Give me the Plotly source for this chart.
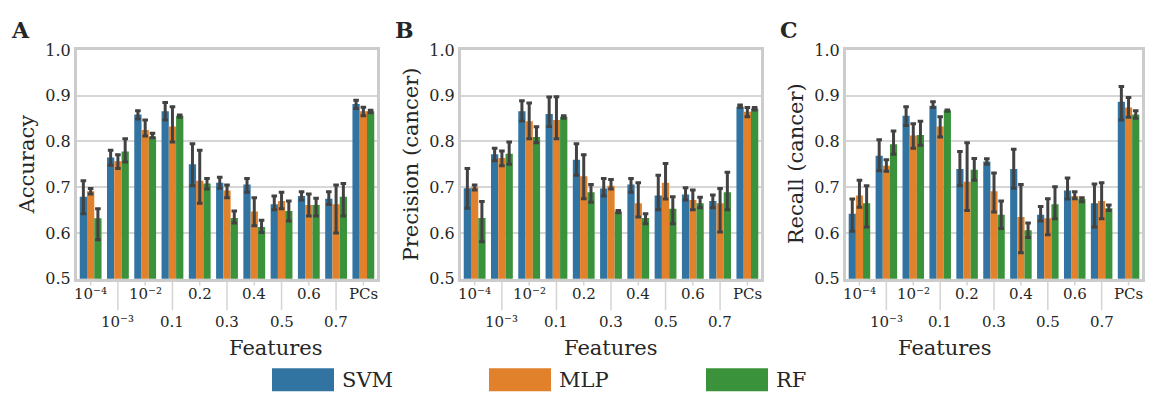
import plotly.graph_objects as go

# ---- data -------------------------------------------------------------
features = ["10⁻⁴", "10⁻³", "10⁻²", "0.1", "0.2",
            "0.3", "0.4", "0.5", "0.6", "0.7", "PCs"]
models = ["SVM", "MLP", "RF"]

# Accuracy: mean, upper and lower CI bound
acc_svm = [0.679, 0.765, 0.859, 0.866, 0.750, 0.710, 0.706, 0.663, 0.681, 0.675, 0.882]
acc_svm_hi = [0.714, 0.781, 0.867, 0.885, 0.795, 0.722, 0.719, 0.681, 0.690, 0.690, 0.890]
acc_svm_lo = [0.642, 0.748, 0.849, 0.847, 0.703, 0.698, 0.689, 0.651, 0.672, 0.662, 0.872]
acc_mlp = [0.691, 0.757, 0.825, 0.833, 0.714, 0.693, 0.647, 0.670, 0.661, 0.663, 0.866]
acc_mlp_hi = [0.697, 0.771, 0.847, 0.876, 0.781, 0.705, 0.677, 0.689, 0.685, 0.705, 0.875]
acc_mlp_lo = [0.685, 0.741, 0.812, 0.799, 0.665, 0.677, 0.616, 0.653, 0.637, 0.600, 0.856]
acc_rf = [0.632, 0.778, 0.811, 0.856, 0.708, 0.633, 0.613, 0.648, 0.661, 0.679, 0.866]
acc_rf_hi = [0.653, 0.806, 0.818, 0.858, 0.719, 0.648, 0.628, 0.670, 0.676, 0.708, 0.868]
acc_rf_lo = [0.585, 0.755, 0.808, 0.853, 0.696, 0.622, 0.601, 0.626, 0.637, 0.637, 0.863]

# Precision (cancer)
prec_svm = [0.698, 0.772, 0.866, 0.860, 0.760, 0.697, 0.706, 0.682, 0.684, 0.670, 0.876]
prec_svm_hi = [0.741, 0.785, 0.889, 0.897, 0.795, 0.719, 0.719, 0.726, 0.699, 0.683, 0.880]
prec_svm_lo = [0.654, 0.758, 0.845, 0.833, 0.726, 0.681, 0.689, 0.651, 0.672, 0.655, 0.874]
prec_mlp = [0.700, 0.764, 0.844, 0.847, 0.724, 0.703, 0.665, 0.710, 0.672, 0.665, 0.865]
prec_mlp_hi = [0.705, 0.779, 0.884, 0.898, 0.771, 0.717, 0.710, 0.752, 0.694, 0.697, 0.874]
prec_mlp_lo = [0.694, 0.747, 0.806, 0.806, 0.675, 0.696, 0.635, 0.674, 0.651, 0.602, 0.854]
prec_rf = [0.633, 0.773, 0.810, 0.854, 0.689, 0.647, 0.633, 0.653, 0.665, 0.689, 0.872]
prec_rf_hi = [0.669, 0.799, 0.832, 0.856, 0.706, 0.649, 0.642, 0.679, 0.678, 0.733, 0.874]
prec_rf_lo = [0.581, 0.750, 0.797, 0.851, 0.667, 0.644, 0.620, 0.620, 0.655, 0.651, 0.869]

# Recall (cancer)
rec_svm = [0.642, 0.769, 0.856, 0.878, 0.740, 0.756, 0.740, 0.640, 0.693, 0.665, 0.887]
rec_svm_hi = [0.674, 0.804, 0.876, 0.887, 0.778, 0.762, 0.783, 0.658, 0.720, 0.707, 0.920]
rec_svm_lo = [0.604, 0.736, 0.835, 0.874, 0.703, 0.750, 0.698, 0.626, 0.674, 0.613, 0.847]
rec_mlp = [0.682, 0.747, 0.813, 0.833, 0.712, 0.691, 0.635, 0.632, 0.681, 0.670, 0.874]
rec_mlp_hi = [0.715, 0.760, 0.839, 0.854, 0.797, 0.731, 0.706, 0.675, 0.690, 0.710, 0.896]
rec_mlp_lo = [0.656, 0.735, 0.785, 0.810, 0.649, 0.646, 0.557, 0.596, 0.675, 0.631, 0.853]
rec_rf = [0.665, 0.794, 0.814, 0.868, 0.738, 0.640, 0.606, 0.663, 0.674, 0.654, 0.859]
rec_rf_hi = [0.703, 0.823, 0.844, 0.869, 0.763, 0.670, 0.622, 0.701, 0.677, 0.661, 0.867]
rec_rf_lo = [0.613, 0.772, 0.792, 0.866, 0.715, 0.610, 0.590, 0.631, 0.668, 0.649, 0.851]

y_ticks = [0.5, 0.6, 0.7, 0.8, 0.9, 1.0]

# ---- styling ----------------------------------------------------------
W, H = 1155, 405
SERIF = "'DejaVu Serif', 'Liberation Serif', serif"
TEXT = "#262626"
FRAME = "#cccccc"
GRID = "#d6d6d6"
ERR = "#424242"
colors = {"SVM": "#3274a1", "MLP": "#e1812c", "RF": "#3a923a"}

panels = [
    {"letter": "A", "ylabel": "Accuracy",
     "series": {"SVM": (acc_svm, acc_svm_hi, acc_svm_lo),
                "MLP": (acc_mlp, acc_mlp_hi, acc_mlp_lo),
                "RF": (acc_rf, acc_rf_hi, acc_rf_lo)},
     "px": (77, 377)},
    {"letter": "B", "ylabel": "Precision (cancer)",
     "series": {"SVM": (prec_svm, prec_svm_hi, prec_svm_lo),
                "MLP": (prec_mlp, prec_mlp_hi, prec_mlp_lo),
                "RF": (prec_rf, prec_rf_hi, prec_rf_lo)},
     "px": (461, 761)},
    {"letter": "C", "ylabel": "Recall (cancer)",
     "series": {"SVM": (rec_svm, rec_svm_hi, rec_svm_lo),
                "MLP": (rec_mlp, rec_mlp_hi, rec_mlp_lo),
                "RF": (rec_rf, rec_rf_hi, rec_rf_lo)},
     "px": (846, 1142)},
]

PLOT_TOP, PLOT_BOT = 43, 283


def fy(py):
    """pixel row -> paper y"""
    return 1 - py / H


def fx(px):
    return px / W


fig = go.Figure()
annotations = []
shapes = []
xpos = list(range(len(features)))

for k, p in enumerate(panels):
    sfx = "" if k == 0 else str(k + 1)
    xa, ya = "x" + sfx, "y" + sfx
    for m in models:
        mean, hi, lo = p["series"][m]
        fig.add_trace(go.Bar(
            x=xpos, y=mean, name=m, xaxis=xa, yaxis=ya,
            marker=dict(color=colors[m], line=dict(width=0)),
            error_y=dict(type="data", symmetric=False,
                         array=[h - v for h, v in zip(hi, mean)],
                         arrayminus=[v - l for v, l in zip(mean, lo)],
                         color=ERR, thickness=3, width=2.8),
            showlegend=False, offsetgroup=m,
        ))
    x0, x1 = p["px"]
    fig.update_layout({
        "xaxis" + sfx: dict(domain=[fx(x0), fx(x1)], anchor=ya,
                            range=[-0.5, len(features) - 0.5],
                            showticklabels=False, showgrid=False, zeroline=False,
                            showline=True, mirror=True, linecolor=FRAME, linewidth=3,
                            ticks=""),
        "yaxis" + sfx: dict(domain=[fy(PLOT_BOT), fy(PLOT_TOP)], anchor=xa,
                            range=[0.5, 1.0], tickvals=y_ticks,
                            ticktext=[f"{t:.1f}" for t in y_ticks],
                            showgrid=True, gridcolor=GRID, gridwidth=2,
                            zeroline=False, showline=True, mirror=True,
                            linecolor=FRAME, linewidth=3, ticks="",
                            tickfont=dict(family=SERIF, size=16, color=TEXT)),
    })

    # two-row category labels with short / long tick lines
    for i, lab in enumerate(features):
        row2 = i % 2 == 1
        shapes.append(dict(type="line", xref=xa, yref="paper",
                           x0=i, x1=i, y0=fy(PLOT_BOT + 1),
                           y1=fy(316 if row2 else 290),
                           line=dict(color="#d4d4d4", width=1.5), layer="below"))
        annotations.append(dict(xref=xa, yref="paper", x=i,
                                y=fy(328 if row2 else 299),
                                text=lab, showarrow=False, xanchor="center",
                                yanchor="middle",
                                font=dict(family=SERIF, size=15, color=TEXT)))
    cx = (x0 + x1) / 2
    annotations.append(dict(xref="paper", yref="paper", x=fx(cx), y=fy(356),
                            text="Features", showarrow=False, yanchor="middle",
                            font=dict(family=SERIF, size=21, color=TEXT)))
    annotations.append(dict(xref="paper", yref="paper", x=fx(x0 - 50),
                            y=fy((PLOT_TOP + PLOT_BOT) / 2),
                            text=p["ylabel"], textangle=-90, showarrow=False,
                            xanchor="center", yanchor="middle",
                            font=dict(family=SERIF, size=21, color=TEXT)))
    annotations.append(dict(xref="paper", yref="paper", x=fx(x0 - 68), y=fy(22),
                            text="<b>" + p["letter"] + "</b>", showarrow=False,
                            xanchor="left", yanchor="middle",
                            font=dict(family=SERIF, size=22, color=TEXT)))

# legend drawn as colour swatches with labels
legend_x = {"SVM": 272, "MLP": 489, "RF": 706}
for m in models:
    lx = legend_x[m]
    shapes.append(dict(type="rect", xref="paper", yref="paper",
                       x0=fx(lx), x1=fx(lx + 62), y0=fy(401), y1=fy(377),
                       fillcolor=colors[m], line=dict(width=0)))
    annotations.append(dict(xref="paper", yref="paper", x=fx(lx + 68), y=fy(389),
                            text=m, showarrow=False, xanchor="left", yanchor="middle",
                            font=dict(family=SERIF, size=21, color=TEXT)))

fig.update_layout(
    width=W, height=H, margin=dict(l=0, r=0, t=0, b=0),
    paper_bgcolor="white", plot_bgcolor="white",
    barmode="group", bargap=0.2, bargroupgap=0,
    annotations=annotations, shapes=shapes,
)

fig.write_html("out.html")
